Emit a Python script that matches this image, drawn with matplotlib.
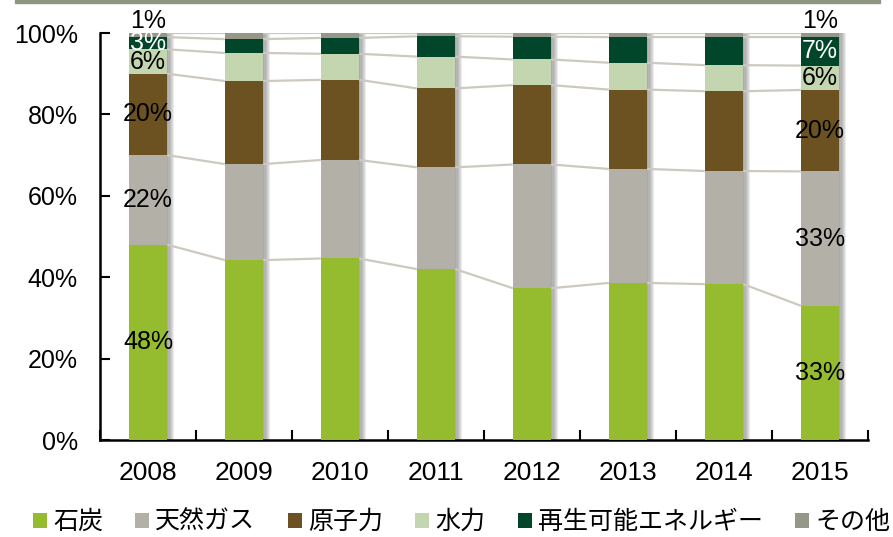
import numpy as np
import matplotlib
matplotlib.use("Agg")
import matplotlib.pyplot as plt
from matplotlib.patches import Patch, Rectangle

plt.rcParams['font.family'] = ['Liberation Sans', 'Noto Sans CJK JP', 'DejaVu Sans']

years = ["2008", "2009", "2010", "2011", "2012", "2013", "2014", "2015"]
sources = ["石炭", "天然ガス", "原子力", "水力", "再生可能エネルギー", "その他"]

# share of generation (%), bottom to top
coal       = [48.0, 44.2, 44.6, 42.0, 37.3, 38.6, 38.3, 33.0]
gas        = [22.0, 23.6, 24.2, 25.0, 30.4, 28.0, 27.8, 33.0]
nuclear    = [20.0, 20.4, 19.7, 19.4, 19.5, 19.5, 19.6, 20.0]
hydro      = [6.0, 6.9, 6.4, 7.8, 6.3, 6.6, 6.4, 6.0]
renewables = [3.0, 3.4, 3.9, 5.0, 5.6, 6.3, 6.9, 7.0]
other      = [1.0, 1.5, 1.2, 0.8, 0.9, 1.0, 1.0, 1.0]

colors = ["#95bb2f", "#b3b0a8", "#6b5220", "#c4d6b0", "#01452b", "#959889"]

# labelled values for first and last year
label_years = [0, 7]
label_text_colors = ["black", "black", "black", "black", "white", "black"]

series = np.array([coal, gas, nuclear, hydro, renewables, other])
x = np.arange(len(years))
width = 0.4

fig = plt.figure(figsize=(8.93, 5.37), dpi=100)
ax = fig.add_axes([0.112, 0.1806, 0.86, 0.7579])

# thin band across the top of the figure
fig.patches.append(Rectangle((15 / 893, 1 - 3 / 537), 865 / 893, 3 / 537,
                             transform=fig.transFigure, color="#8e9680", zorder=0))

# soft shadow to the right of each column
totals = series.sum(axis=0)
for k in range(1, 7):
    ax.bar(x + 0.012 * k, totals, width=width, color="#666666",
           alpha=0.12, zorder=1, linewidth=0)

# stacked segments
bottoms = np.zeros(len(years))
for vals, name, c in zip(series, sources, colors):
    ax.bar(x, vals, width=width, bottom=bottoms, color=c, label=name,
           zorder=3, linewidth=0)
    bottoms = bottoms + vals

# series lines joining segment tops
cum = np.cumsum(series, axis=0)
for level in cum:
    for i in range(len(years) - 1):
        ax.plot([x[i] + width / 2, x[i + 1] - width / 2], [level[i], level[i + 1]],
                color="#cdc9c1", lw=1.6, zorder=2, solid_capstyle="butt")

# value labels
for i in label_years:
    base = 0.0
    for j, vals in enumerate(series):
        v = vals[i]
        yc = base + v / 2
        if j == len(series) - 1:
            yc = base + v + 3.0
        ax.text(x[i], yc, f"{v:.0f}%", ha="center", va="center", fontsize=18,
                color=label_text_colors[j], zorder=5, clip_on=False)
        base += v

ax.set_xlim(-0.5, len(years) - 0.5)
ax.set_ylim(0, 100)
ax.set_yticks(np.arange(0, 101, 20))
ax.set_yticklabels([f"{t}%" for t in range(0, 101, 20)], fontsize=18)
ax.set_xticks(x)
ax.set_xticklabels(years, fontsize=19)
ax.set_xticks(np.arange(-0.5, len(years), 1.0), minor=True)
ax.tick_params(axis="x", which="major", length=0, pad=15)
ax.tick_params(axis="x", which="minor", direction="in", length=7, width=1.5)
ax.tick_params(axis="y", direction="in", length=7, width=1.5, pad=16)

for s in ["top", "right"]:
    ax.spines[s].set_visible(False)
for s in ["left", "bottom"]:
    ax.spines[s].set_linewidth(1.8)

handles = [Patch(facecolor=c, edgecolor="none") for c in colors]
fig.legend(handles, sources, loc="center", bbox_to_anchor=(0.517, 0.028), ncol=6,
           frameon=False, handlelength=0.55, handleheight=0.55,
           handletextpad=0.25, columnspacing=1.3,
           prop={"family": ["Noto Sans CJK JP"], "size": 18})

fig.savefig("out.png", dpi=100)
